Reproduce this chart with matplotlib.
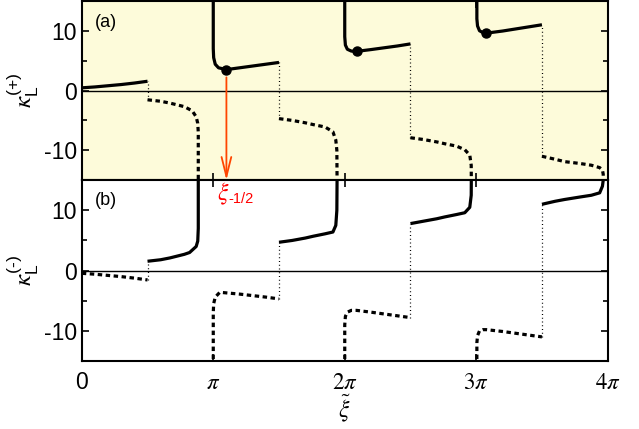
import numpy as np
import matplotlib
matplotlib.use('Agg')
import matplotlib.pyplot as plt

plt.rcParams['font.family'] = ['Liberation Sans', 'DejaVu Sans']
plt.rcParams['mathtext.fontset'] = 'stix'
plt.rcParams['axes.unicode_minus'] = False

# x positions in units of pi
# panel (a): kappa_L^(+)
a_pos = [
    ([0, 0.1, 0.2, 0.3, 0.4, 0.5],
     [0.45, 0.6, 0.8, 1.0, 1.25, 1.55]),
    ([1.0, 1.0, 1.003, 1.015, 1.04, 1.1, 1.2, 1.3, 1.4, 1.5],
     [16, 7, 5.5, 4.4, 3.8, 3.5, 3.8, 4.1, 4.4, 4.7]),
    ([2.0, 2.0, 2.005, 2.02, 2.05, 2.09, 2.2, 2.3, 2.4, 2.5],
     [16, 9, 7.6, 6.9, 6.6, 6.55, 6.85, 7.15, 7.45, 7.8]),
    ([3.005, 3.005, 3.01, 3.025, 3.05, 3.077, 3.2, 3.3, 3.4, 3.5],
     [16, 12, 10.8, 10.0, 9.7, 9.6, 9.95, 10.3, 10.65, 11.0]),
]
a_neg = [
    ([0.5, 0.6, 0.67, 0.78, 0.84, 0.87, 0.882, 0.886, 0.886],
     [-1.55, -1.8, -2.1, -2.7, -3.4, -4.4, -5.5, -7, -16]),
    ([1.5, 1.6, 1.7, 1.76, 1.85, 1.91, 1.932, 1.94, 1.942],
     [-4.7, -5.0, -5.4, -5.7, -6.1, -6.9, -8.3, -10, -16]),
    ([2.5, 2.6, 2.7, 2.76, 2.85, 2.913, 2.951, 2.962, 2.963],
     [-7.9, -8.2, -8.6, -8.9, -9.3, -9.9, -10.8, -12.5, -16]),
    ([3.5, 3.6, 3.673, 3.787, 3.876, 3.939, 3.96, 3.966, 3.966],
     [-11.0, -11.5, -11.9, -12.2, -12.5, -12.9, -13.3, -14, -16]),
]
a_jump_x = [0.5, 1.5, 2.5, 3.5]
a_jump_lo = [-1.55, -4.7, -7.9, -11.0]
a_jump_hi = [1.55, 4.7, 7.8, 11.0]
dots_x = [1.1, 2.09, 3.077]
dots_y = [3.5, 6.55, 9.6]

# panel (b): kappa_L^(-)
b_pos = [
    ([0.5, 0.6, 0.67, 0.78, 0.82, 0.87, 0.882, 0.886, 0.886],
     [1.55, 1.8, 2.1, 2.7, 3.0, 4.0, 4.9, 7, 16]),
    ([1.5, 1.6, 1.7, 1.76, 1.85, 1.91, 1.932, 1.94, 1.942],
     [4.7, 5.0, 5.4, 5.7, 6.1, 6.4, 7.5, 10, 16]),
    ([2.5, 2.6, 2.7, 2.76, 2.85, 2.913, 2.951, 2.962, 2.963],
     [7.8, 8.2, 8.6, 8.9, 9.3, 9.6, 10.5, 12.5, 16]),
    ([3.5, 3.6, 3.673, 3.787, 3.876, 3.939, 3.96, 3.966, 3.966],
     [11.0, 11.5, 11.8, 12.2, 12.5, 12.9, 14.0, 15, 16]),
]
b_neg = [
    ([0, 0.1, 0.2, 0.3, 0.4, 0.5],
     [-0.45, -0.6, -0.8, -1.0, -1.25, -1.55]),
    ([1.0, 1.0, 1.003, 1.015, 1.05, 1.1, 1.2, 1.3, 1.4, 1.5],
     [-16, -7, -5.5, -4.4, -3.6, -3.7, -3.9, -4.15, -4.4, -4.7]),
    ([2.0, 2.0, 2.005, 2.02, 2.05, 2.09, 2.2, 2.3, 2.4, 2.5],
     [-16, -9, -7.6, -6.9, -6.6, -6.6, -6.9, -7.2, -7.5, -7.8]),
    ([3.005, 3.005, 3.01, 3.025, 3.05, 3.077, 3.2, 3.3, 3.4, 3.5],
     [-16, -12, -10.8, -10.0, -9.8, -9.8, -10.1, -10.4, -10.7, -11.0]),
]
b_jump_x = [0.5, 1.5, 2.5, 3.5]
b_jump_lo = [-1.55, -4.7, -7.8, -11.0]
b_jump_hi = [1.55, 4.7, 7.8, 11.0]

xticks = [0, 1, 2, 3, 4]
xticklabels = ['0', r'$\pi$', r'$2\pi$', r'$3\pi$', r'$4\pi$']

fig = plt.figure(figsize=(6.39, 4.29), dpi=100)
ax1 = fig.add_axes([0.128, 0.580, 0.823, 0.418])
ax2 = fig.add_axes([0.128, 0.1585, 0.823, 0.4215], sharex=ax1)
ax1.set_facecolor('#fdfbda')

lw = 2.3
dash = (0, (1.4, 1.1))


def draw(ax, pos, neg, jx, jlo, jhi):
    for xs, ys in pos:
        ax.plot(np.array(xs) * np.pi, ys, '-', c='k', lw=lw, solid_capstyle='butt')
    for xs, ys in neg:
        ax.plot(np.array(xs) * np.pi, ys, c='k', lw=lw, ls=dash)
    for x, lo, hi in zip(jx, jlo, jhi):
        ax.plot([x * np.pi, x * np.pi], [lo, hi], c='k', lw=0.9, ls=(0, (0.8, 2.2)))
    ax.axhline(0, c='k', lw=1.0)
    ax.set_ylim(-15, 15)
    ax.set_xlim(0, 4 * np.pi)
    ax.set_yticks([-10, 0, 10])
    ax.set_yticks([-5, 5], minor=True)
    ax.tick_params(which='both', direction='in', top=True, right=True,
                   labelsize=16.5, width=1.2)
    ax.tick_params(which='major', length=5)
    ax.tick_params(which='minor', length=3.5)
    for s in ax.spines.values():
        s.set_linewidth(1.5)


draw(ax1, a_pos, a_neg, a_jump_x, a_jump_lo, a_jump_hi)
draw(ax2, b_pos, b_neg, b_jump_x, b_jump_lo, b_jump_hi)

ax1.plot(np.array(dots_x) * np.pi, dots_y, 'o', c='k', ms=6.5)

ax1.annotate('', xy=(dots_x[0] * np.pi, -15), xytext=(dots_x[0] * np.pi, 2.2),
             arrowprops=dict(arrowstyle='->, head_length=1.4, head_width=0.35',
                             color='orangered', lw=1.3, mutation_scale=10,
                             shrinkA=0, shrinkB=0),
             annotation_clip=False)
ax2.text(1.03 * np.pi, 12.7, r'$\xi$', color='red', fontsize=17,
         ha='left', va='center')
ax2.text(1.115 * np.pi, 11.9, '\u20101/2', color='red', fontsize=10.5,
         ha='left', va='center')

ax2.set_xticks(np.array(xticks) * np.pi)
ax2.set_xticklabels(xticklabels)
ax2.tick_params(axis='x', pad=7)
ax1.tick_params(labelbottom=False)
ax2.set_xlabel(r'$\tilde{\xi}$', fontsize=17, labelpad=-1)

ax1.set_ylabel('$\\kappa_{\\mathregular{L}}^{\\mathregular{(+)}}$', fontsize=18, labelpad=2)
ax2.set_ylabel('$\\kappa_{\\mathregular{L}}^{\\mathregular{(\u2010)}}$', fontsize=18, labelpad=2)

ax1.text(0.025, 0.88, '(a)', transform=ax1.transAxes, fontsize=13, va='center')
ax2.text(0.025, 0.89, '(b)', transform=ax2.transAxes, fontsize=13, va='center')

fig.savefig('out.png', dpi=100)
